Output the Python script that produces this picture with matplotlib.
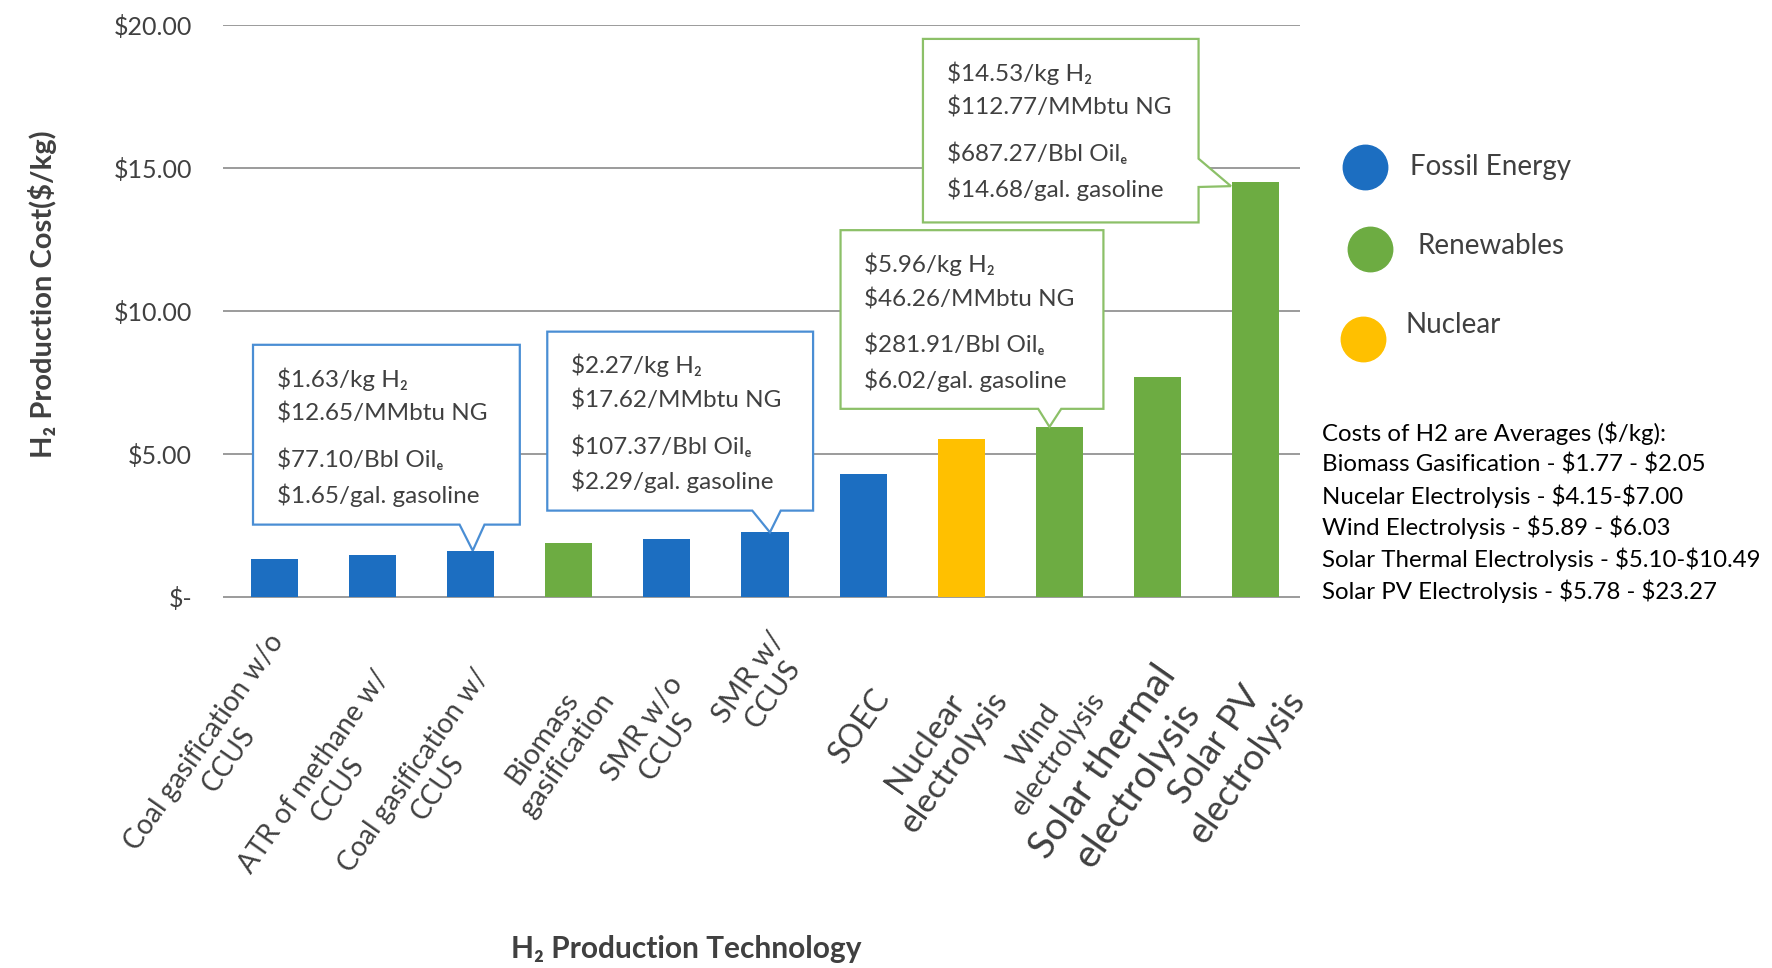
import matplotlib
matplotlib.use("Agg")
import matplotlib.pyplot as plt
from matplotlib.patches import Polygon
from matplotlib.lines import Line2D

plt.rcParams['font.family'] = ['Lato', 'DejaVu Sans']
plt.rcParams['text.parse_math'] = False

technologies = ["Coal gasification w/o\nCCUS", "ATR of methane w/\nCCUS", "Coal gasification w/\nCCUS",
                "Biomass\ngasification", "SMR w/o\nCCUS", "SMR w/\nCCUS", "SOEC",
                "Nuclear\nelectrolysis", "Wind\nelectrolysis", "Solar thermal\nelectrolysis",
                "Solar PV\nelectrolysis"]
costs = [1.32, 1.46, 1.63, 1.90, 2.05, 2.27, 4.30, 5.53, 5.96, 7.72, 14.53]
sources = ["Fossil Energy", "Fossil Energy", "Fossil Energy", "Renewables", "Fossil Energy",
           "Fossil Energy", "Fossil Energy", "Nuclear", "Renewables", "Renewables", "Renewables"]
source_names = ["Fossil Energy", "Renewables", "Nuclear"]
y_ticks = [0, 5, 10, 15, 20]
y_tick_labels = ["$-", "$5.00", "$10.00", "$15.00", "$20.00"]

callout_bars = [2, 5, 8, 10]
callout_text = [
    ["$1.63/kg H₂", "$12.65/MMbtu NG", "$77.10/Bbl Oilₑ", "$1.65/gal. gasoline"],
    ["$2.27/kg H₂", "$17.62/MMbtu NG", "$107.37/Bbl Oilₑ", "$2.29/gal. gasoline"],
    ["$5.96/kg H₂", "$46.26/MMbtu NG", "$281.91/Bbl Oilₑ", "$6.02/gal. gasoline"],
    ["$14.53/kg H₂", "$112.77/MMbtu NG", "$687.27/Bbl Oilₑ", "$14.68/gal. gasoline"],
]
notes = ["Costs of H2 are Averages ($/kg):",
         "Biomass Gasification - $1.77 - $2.05",
         "Nucelar Electrolysis - $4.15-$7.00",
         "Wind Electrolysis - $5.89 - $6.03",
         "Solar Thermal Electrolysis - $5.10-$10.49",
         "Solar PV Electrolysis - $5.78 - $23.27"]

colors = {"Fossil Energy": "#1C6EC1", "Renewables": "#6DAC42", "Nuclear": "#FFC000"}
edge_colors = {"Fossil Energy": "#4A8ED4", "Renewables": "#8CC068"}
text_gray = "#404040"

W, H = 1772, 968


def fx(px):
    return px / W


def fy(py):
    return 1 - py / H


def draw_callout(ax, box, pointer, color, lines):
    left, right, bottom, top = box
    if pointer[0] == "bottom":
        _, bl, br, tx, ty = pointer
        pts = [(left, top), (right, top), (right, bottom), (br, bottom), (tx, ty),
               (bl, bottom), (left, bottom)]
    else:
        _, yt, yb, tx, ty = pointer
        pts = [(left, top), (right, top), (right, yt), (tx, ty), (right, yb),
               (right, bottom), (left, bottom)]
    ax.add_patch(Polygon(pts, closed=True, facecolor="white", edgecolor=color,
                         lw=1.6, clip_on=False, zorder=4))
    for off, line in zip([24.5, 49.7, 82.8, 108], lines):
        ax.annotate(line, xy=(left, top), xytext=(17, -off), textcoords="offset points",
                    ha="left", va="center", fontsize=17.5, color=text_gray, zorder=5)


fig = plt.figure(figsize=(W / 100, H / 100), dpi=100)
ax = fig.add_axes([fx(222.6), 1 - 597.8 / H, 1077 / W, (597.8 - 24.9) / H])

x = list(range(len(costs)))
ax.bar(x, costs, width=0.48, color=[colors[s] for s in sources], zorder=3)

ax.set_xlim(-0.53, 10.45)
ax.set_ylim(-0.02, 20.02)
ax.set_yticks(y_ticks)
ax.set_yticklabels(y_tick_labels)
ax.set_xticks(x)
ax.tick_params(axis="x", length=0, labelbottom=False)
ax.tick_params(axis="y", length=0, pad=22, labelsize=18, labelcolor=text_gray)
ax.yaxis.grid(True, color="#8a8a8a", lw=1.2, zorder=0)
for s in ax.spines.values():
    s.set_visible(False)

# category labels under the bars (placed by hand like the original slide)
label_offsets = [(11, -35), (16, -61), (17.5, -60), (19.5, -64.5), (16, -65), (18.5, -33),
                 (15, -68), (18.7, -63.4), (20, -64), (20, -60), (19, -62)]
label_sizes = [20, 20, 20, 21, 21, 21, 23, 24, 21, 28, 26]
for i, lab in enumerate(technologies):
    ax.annotate(lab, xy=(i, 0), xytext=label_offsets[i], textcoords="offset points",
                rotation=55, rotation_mode="anchor", ha="right", va="center",
                multialignment="center", fontsize=label_sizes[i], color=text_gray,
                annotation_clip=False)

# callouts
boxes = [(-0.22, 2.50, 2.54, 8.83), (2.78, 5.49, 3.03, 9.29),
         (5.77, 8.45, 6.59, 12.84), (6.61, 9.42, 13.11, 19.53)]
pointers = [("bottom", 1.886, 2.14, 2.02, costs[2]),
            ("bottom", 4.87, 5.16, 5.05, costs[5]),
            ("bottom", 7.785, 8.02, 7.90, costs[8]),
            ("right", 15.34, 14.35, 9.75, costs[10] - 0.15)]
for k, b in enumerate(callout_bars):
    draw_callout(ax, boxes[k], pointers[k], edge_colors[sources[b]], callout_text[k])

# legend
legend_pos = [(1365, 167, 1410, 167), (1370, 249, 1417, 246), (1363, 339, 1405, 325)]
for name, (cx, cy, tx, ty) in zip(source_names, legend_pos):
    fig.add_artist(Line2D([fx(cx)], [fy(cy)], marker="o", markersize=32, linestyle="none",
                          color=colors[name], transform=fig.transFigure))
    fig.text(fx(tx), fy(ty), name, ha="left", va="center", fontsize=20, color=text_gray)

for j, line in enumerate(notes):
    fig.text(fx(1322), fy(432.8 + j * 31.6), line, ha="left", va="center",
             fontsize=17.3, color="black")

fig.text(fx(43), fy(294), "H₂ Production Cost($/kg)", rotation=90, ha="center",
         va="center", fontsize=21, fontweight="bold", color=text_gray)
fig.text(fx(686), fy(949), "H₂ Production Technology", ha="center", va="center",
         fontsize=21.5, fontweight="bold", color=text_gray)

fig.savefig("out.png", dpi=100)
